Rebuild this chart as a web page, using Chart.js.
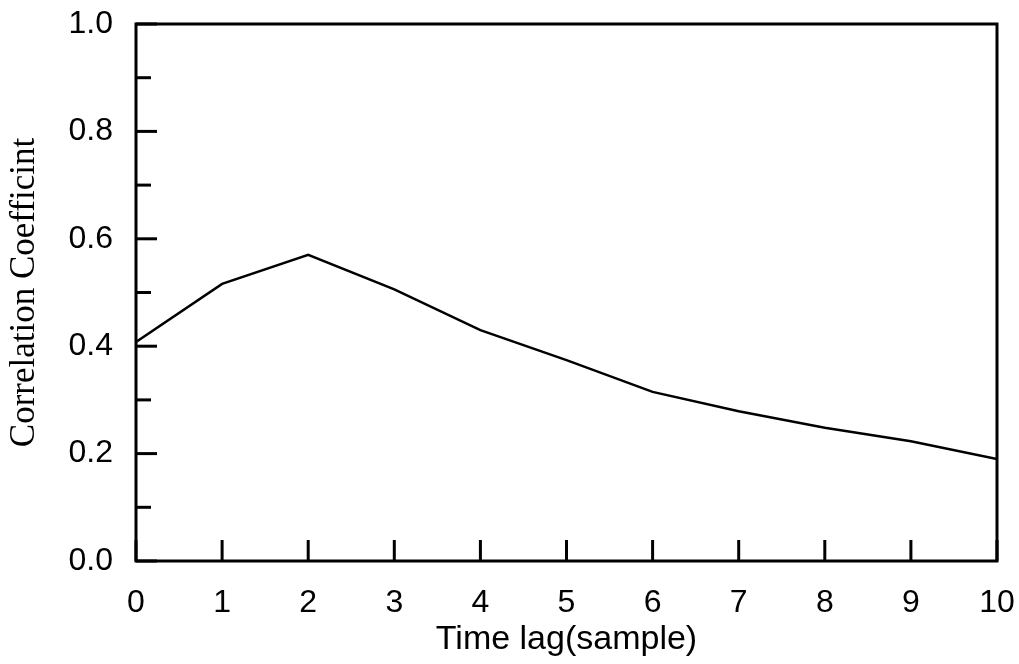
<!DOCTYPE html>
<html>
<head>
<meta charset="utf-8">
<script src="https://cdn.jsdelivr.net/npm/chart.js@4.4.1/dist/chart.umd.min.js"></script>
<style>
  body { margin: 0; background: #fff; }
  #chartContainer { width: 1019px; height: 664px; }
</style>
</head>
<body>
<div id="chartContainer"><canvas id="myChart" width="1019" height="664"></canvas></div>
<script>
//
// Data
//

var timeLags = [0, 1, 2, 3, 4, 5, 6, 7, 8, 9, 10];
var correlation = [0.408, 0.516, 0.570, 0.506, 0.430, 0.374, 0.315, 0.279, 0.248, 0.223, 0.190];

var xTicks = [0, 1, 2, 3, 4, 5, 6, 7, 8, 9, 10];
var yTicks = [0, 0.1, 0.2, 0.3, 0.4, 0.5, 0.6, 0.7, 0.8, 0.9, 1.0];

var xTitle = 'Time lag(sample)';
var yTitle = 'Correlation Coefficint';


//
// Frame and inward ticks
//

var framePlugin = {
    id: 'frame',
    afterDatasetsDraw: function (chart) {
        var ctx = chart.ctx;
        var area = chart.chartArea;
        var xs = chart.scales.x;
        var ys = chart.scales.y;

        ctx.save();
        ctx.strokeStyle = '#000';
        ctx.lineWidth = 3;
        ctx.lineCap = 'butt';
        ctx.strokeRect(area.left, area.top, area.right - area.left, area.bottom - area.top);

        // x ticks, pointing up
        xTicks.forEach(function (v) {
            var px = xs.getPixelForValue(v);
            ctx.beginPath();
            ctx.moveTo(px, area.bottom);
            ctx.lineTo(px, area.bottom - 21);
            ctx.stroke();
        });

        // y ticks, major every 0.2, minor in between
        yTicks.forEach(function (v, i) {
            var py = ys.getPixelForValue(v);
            var len = (i % 2 === 0) ? 21 : 15;
            ctx.beginPath();
            ctx.moveTo(area.left, py);
            ctx.lineTo(area.left + len, py);
            ctx.stroke();
        });
        ctx.restore();
    }
};


//
// Chart
//

var tickFont = { family: '"Liberation Sans", Arial, sans-serif', size: 32 };

var ctx = document.querySelector('#myChart').getContext('2d');
var chart = new Chart(ctx, {
    type: 'line',
    data: {
        datasets: [{
            data: timeLags.map(function (lag, i) {
                return { x: lag, y: correlation[i] };
            }),
            borderColor: '#000',
            borderWidth: 2.5,
            pointRadius: 0,
            tension: 0,
            fill: false
        }]
    },
    options: {
        responsive: false,
        animation: false,
        layout: {
            padding: { left: 0, top: 24, right: 22, bottom: 0 }
        },
        plugins: {
            legend: { display: false },
            tooltip: { enabled: false }
        },
        scales: {
            x: {
                type: 'linear',
                min: 0,
                max: 10,
                grid: { display: false, drawTicks: false, tickLength: 0 },
                border: { display: false },
                afterFit: function (scale) {
                    scale.height = 103;
                    scale.paddingLeft = 0;
                    scale.paddingRight = 0;
                },
                afterBuildTicks: function (scale) {
                    scale.ticks = xTicks.map(function (v) { return { value: v }; });
                },
                ticks: {
                    autoSkip: false,
                    maxRotation: 0,
                    padding: 23,
                    color: '#000',
                    font: tickFont
                },
                title: {
                    display: true,
                    text: xTitle,
                    color: '#000',
                    padding: { top: 0, bottom: 4 },
                    font: { family: '"Liberation Sans", Arial, sans-serif', size: 34 }
                }
            },
            y: {
                min: 0,
                max: 1,
                grid: { display: false, drawTicks: false, tickLength: 0 },
                border: { display: false },
                afterFit: function (scale) {
                    scale.width = 136;
                    scale.paddingTop = 0;
                    scale.paddingBottom = 0;
                },
                afterBuildTicks: function (scale) {
                    scale.ticks = yTicks.map(function (v) { return { value: v }; });
                },
                ticks: {
                    autoSkip: false,
                    padding: 23,
                    color: '#000',
                    font: tickFont,
                    callback: function (value) {
                        var tenths = Math.round(value * 10);
                        return tenths % 2 === 0 ? value.toFixed(1) : '';
                    }
                },
                title: {
                    display: true,
                    text: yTitle,
                    color: '#000',
                    padding: { top: 4, bottom: 0 },
                    font: { family: '"Liberation Serif", "Times New Roman", serif', size: 35 }
                }
            }
        }
    },
    plugins: [framePlugin]
});
</script>
</body>
</html>
